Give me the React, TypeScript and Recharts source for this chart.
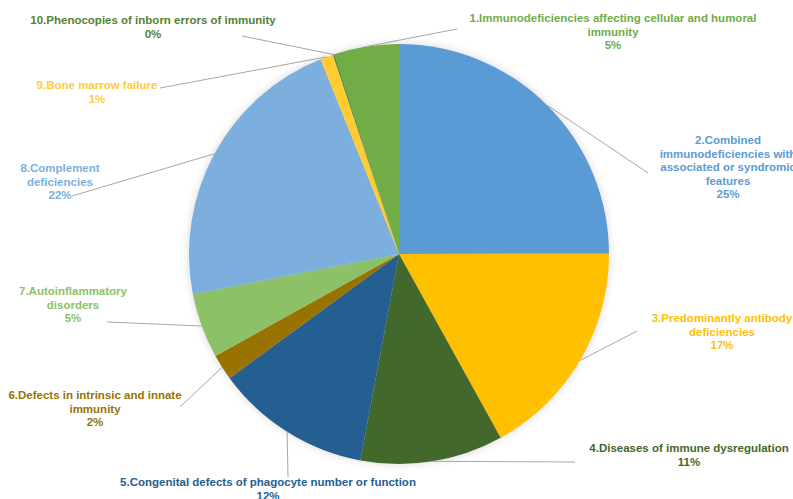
import React from 'react';
import { PieChart, Pie, Cell } from 'recharts';

// Category names (line breaks as in the original labels)
const categories = [
    '1.Immunodeficiencies affecting cellular and humoral\nimmunity',
    '2.Combined\nimmunodeficiencies with\nassociated or syndromic\nfeatures',
    '3.Predominantly antibody\ndeficiencies',
    '4.Diseases of immune dysregulation',
    '5.Congenital defects of phagocyte number or function',
    '6.Defects in intrinsic and innate\nimmunity',
    '7.Autoinflammatory\ndisorders',
    '8.Complement\ndeficiencies',
    '9.Bone marrow failure',
    '10.Phenocopies of inborn errors of immunity',
];

// Share of patients per category (%)
const shares = [5, 25, 17, 11, 12, 2, 5, 22, 1, 0.1];

const sliceColors = [
    '#70AD47', '#5B9BD5', '#FFC000', '#43682B', '#255E91',
    '#997300', '#8CC168', '#7CAFDD', '#FFCD33', '#548235',
];

const labelColors = [
    '#70AD47', '#5B9BD5', '#FFC000', '#43682B', '#255E91',
    '#997300', '#8CC168', '#7CAFDD', '#FFCD33', '#548235',
];

// Label placement: [leader end x, leader end y, text centre x, first baseline y]
const labelSpots: [number, number, number, number][] = [
    [457, 29, 613, 22],
    [648, 173, 728, 144],
    [637, 331, 722, 322],
    [575, 462, 689, 452],
    [288, 477, 268, 486],
    [180, 407, 95, 399],
    [107, 322, 73, 295],
    [72, 196, 60, 172],
    [160, 88, 97, 89],
    [242, 36, 153, 24],
];

const data = categories.map((name, i) => ({ name, value: shares[i] }));
const total = shares.reduce((a, b) => a + b, 0);
// first slice ends at 12 o'clock
const startAngle = 90 + (shares[0] / total) * 360;

const RAD = Math.PI / 180;

const renderLabel = (props: any) => {
    const { cx, cy, midAngle, outerRadius, index } = props;
    const ex = cx + outerRadius * Math.cos(-midAngle * RAD);
    const ey = cy + outerRadius * Math.sin(-midAngle * RAD);
    const [lx, ly, tx, ty] = labelSpots[index];
    const lines = [...categories[index].split('\n'), `${Math.round(shares[index])}%`];
    return (
        <g key={`label-${index}`}>
            <polyline points={`${ex},${ey} ${lx},${ly}`} stroke="#a6a6a6" strokeWidth={1} fill="none" />
            <text
                x={tx}
                y={ty}
                textAnchor="middle"
                fill={labelColors[index]}
                fontSize={11.5}
                fontWeight="bold"
                fontFamily="'Liberation Sans', Arial, sans-serif"
            >
                {lines.map((line, i) => (
                    <tspan key={i} x={tx} dy={i === 0 ? 0 : 13.5}>{line}</tspan>
                ))}
            </text>
        </g>
    );
};

export default function App() {
    return (
        <div style={{ position: 'absolute', left: 0, top: 0, width: 793, height: 499, background: '#fff' }}>
            <style>{'.pie-shadow { filter: blur(3px); opacity: 0.4; }'}</style>
            <PieChart width={793} height={499} margin={{ top: 0, right: 0, bottom: 0, left: 0 }}>
                {/* soft shadow under the pie */}
                <Pie
                    className="pie-shadow"
                    data={data}
                    dataKey="value"
                    cx={399}
                    cy={254}
                    outerRadius={210}
                    startAngle={startAngle}
                    endAngle={startAngle - 360}
                    fill="#000"
                    stroke="none"
                    isAnimationActive={false}
                />
                <Pie
                    data={data}
                    dataKey="value"
                    cx={399}
                    cy={254}
                    outerRadius={210}
                    startAngle={startAngle}
                    endAngle={startAngle - 360}
                    stroke="none"
                    label={renderLabel}
                    labelLine={false}
                    isAnimationActive={false}
                >
                    {data.map((d, i) => (
                        <Cell key={d.name} fill={sliceColors[i]} />
                    ))}
                </Pie>
            </PieChart>
        </div>
    );
}
